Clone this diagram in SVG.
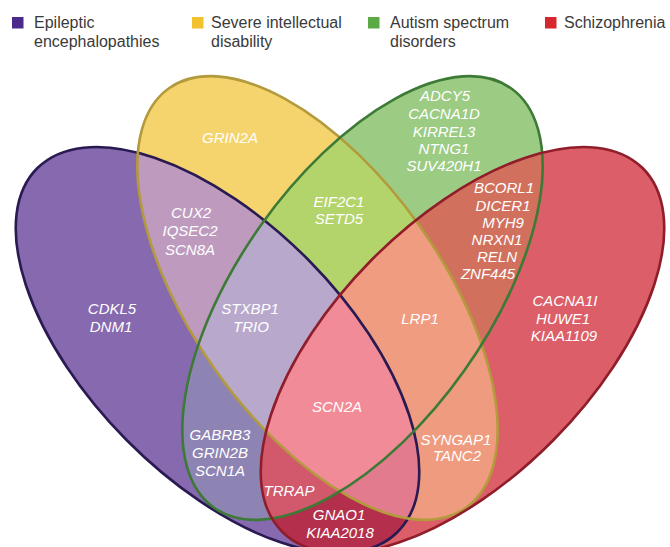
<svg xmlns="http://www.w3.org/2000/svg" xmlns:xlink="http://www.w3.org/1999/xlink" width="670" height="547" viewBox="0 0 670 547">
<style>
.leg{font-family:"Liberation Sans",Arial,sans-serif;font-size:16px;fill:#3a3a3a}
.g{font-family:"Liberation Sans",Arial,sans-serif;font-size:15px;font-style:italic;fill:#ffffff;text-anchor:middle}
.ol{fill:none;stroke-width:2.6}
</style>
<defs>
<ellipse id="eP" cx="217.5" cy="350" rx="256" ry="128" transform="rotate(45.3 217.5 350)"/>
<ellipse id="eY" cx="317.5" cy="298" rx="257" ry="125" transform="rotate(54.7 317.5 298)"/>
<ellipse id="eG" cx="362.5" cy="298" rx="257" ry="125" transform="rotate(-54.7 362.5 298)"/>
<ellipse id="eR" cx="462.5" cy="350" rx="256" ry="128" transform="rotate(-45.3 462.5 350)"/>
<clipPath id="cP"><use xlink:href="#eP"/></clipPath>
<clipPath id="cY"><use xlink:href="#eY"/></clipPath>
<clipPath id="cG"><use xlink:href="#eG"/></clipPath>
<clipPath id="cR"><use xlink:href="#eR"/></clipPath>
</defs>
<rect width="670" height="547" fill="#ffffff"/>
<g id="legend">
<rect x="12" y="17" width="11.5" height="11.5" fill="#4B2A8C"/>
<text class="leg" x="34" y="28">Epileptic</text>
<text class="leg" x="34" y="47">encephalopathies</text>
<rect x="192" y="17" width="11.5" height="11.5" fill="#F2C12E"/>
<text class="leg" x="211" y="28">Severe intellectual</text>
<text class="leg" x="211" y="47">disability</text>
<rect x="368" y="17" width="11.5" height="11.5" fill="#5BAA46"/>
<text class="leg" x="390" y="28">Autism spectrum</text>
<text class="leg" x="390" y="47">disorders</text>
<rect x="545" y="17" width="11.5" height="11.5" fill="#D7262E"/>
<text class="leg" x="564" y="28">Schizophrenia</text>
</g>
<g id="regions">
<use xlink:href="#eP" fill="#8669AF"/>
<use xlink:href="#eY" fill="#F5D46E"/>
<use xlink:href="#eG" fill="#9CCB83"/>
<use xlink:href="#eR" fill="#DB5E69"/>
<g clip-path="url(#cP)"><use xlink:href="#eY" fill="#BE9BBE"/></g>
<g clip-path="url(#cP)"><use xlink:href="#eG" fill="#8E84B3"/></g>
<g clip-path="url(#cP)"><use xlink:href="#eR" fill="#B32F4B"/></g>
<g clip-path="url(#cY)"><use xlink:href="#eG" fill="#B3D46B"/></g>
<g clip-path="url(#cY)"><use xlink:href="#eR" fill="#EE9B7F"/></g>
<g clip-path="url(#cG)"><use xlink:href="#eR" fill="#D2705E"/></g>
<g clip-path="url(#cP)"><g clip-path="url(#cY)"><use xlink:href="#eG" fill="#B8A8CC"/></g></g>
<g clip-path="url(#cP)"><g clip-path="url(#cY)"><use xlink:href="#eR" fill="#E27B8D"/></g></g>
<g clip-path="url(#cP)"><g clip-path="url(#cG)"><use xlink:href="#eR" fill="#D2586C"/></g></g>
<g clip-path="url(#cY)"><g clip-path="url(#cG)"><use xlink:href="#eR" fill="#EF9C80"/></g></g>
<g clip-path="url(#cP)"><g clip-path="url(#cY)"><g clip-path="url(#cG)"><use xlink:href="#eR" fill="#F28B98"/></g></g></g>
</g>
<g id="outlines">
<use xlink:href="#eP" class="ol" stroke="#2A1A52"/>
<use xlink:href="#eY" class="ol" stroke="#B39A3C"/>
<use xlink:href="#eG" class="ol" stroke="#3C7A36"/>
<use xlink:href="#eR" class="ol" stroke="#8F1E2A"/>
</g>
<g id="connectors"/>
<g id="labels">
<g id="n-grin2a"><text class="g" x="230" y="143">GRIN2A</text></g>
<g id="n-py"><text class="g" x="191" y="218">CUX2</text><text class="g" x="190" y="236">IQSEC2</text><text class="g" x="190" y="255">SCN8A</text></g>
<g id="n-yg"><text class="g" x="339" y="207">EIF2C1</text><text class="g" x="339" y="224">SETD5</text></g>
<g id="n-g"><text class="g" x="445" y="101">ADCY5</text><text class="g" x="444" y="119">CACNA1D</text><text class="g" x="444" y="137">KIRREL3</text><text class="g" x="444" y="154">NTNG1</text><text class="g" x="444" y="171">SUV420H1</text></g>
<g id="n-gr"><text class="g" x="504" y="193">BCORL1</text><text class="g" x="503" y="211">DICER1</text><text class="g" x="503" y="228">MYH9</text><text class="g" x="497" y="245">NRXN1</text><text class="g" x="497" y="262">RELN</text><text class="g" x="488" y="279">ZNF445</text></g>
<g id="n-r"><text class="g" x="565" y="306">CACNA1I</text><text class="g" x="563" y="324">HUWE1</text><text class="g" x="564" y="341">KIAA1109</text></g>
<g id="n-ygr"><text class="g" x="420" y="324">LRP1</text></g>
<g id="n-p"><text class="g" x="112" y="314">CDKL5</text><text class="g" x="111" y="332">DNM1</text></g>
<g id="n-pyg"><text class="g" x="250" y="314">STXBP1</text><text class="g" x="251" y="332">TRIO</text></g>
<g id="n-pygr"><text class="g" x="337" y="412">SCN2A</text></g>
<g id="n-pg"><text class="g" x="220" y="440">GABRB3</text><text class="g" x="220" y="458">GRIN2B</text><text class="g" x="220" y="476">SCN1A</text></g>
<g id="n-pgr"><text class="g" x="289" y="496">TRRAP</text></g>
<g id="n-pr"><text class="g" x="339" y="520">GNAO1</text><text class="g" x="340" y="538">KIAA2018</text></g>
<g id="n-yr"><text class="g" x="456" y="445">SYNGAP1</text><text class="g" x="457" y="461">TANC2</text></g>
</g>
</svg>
